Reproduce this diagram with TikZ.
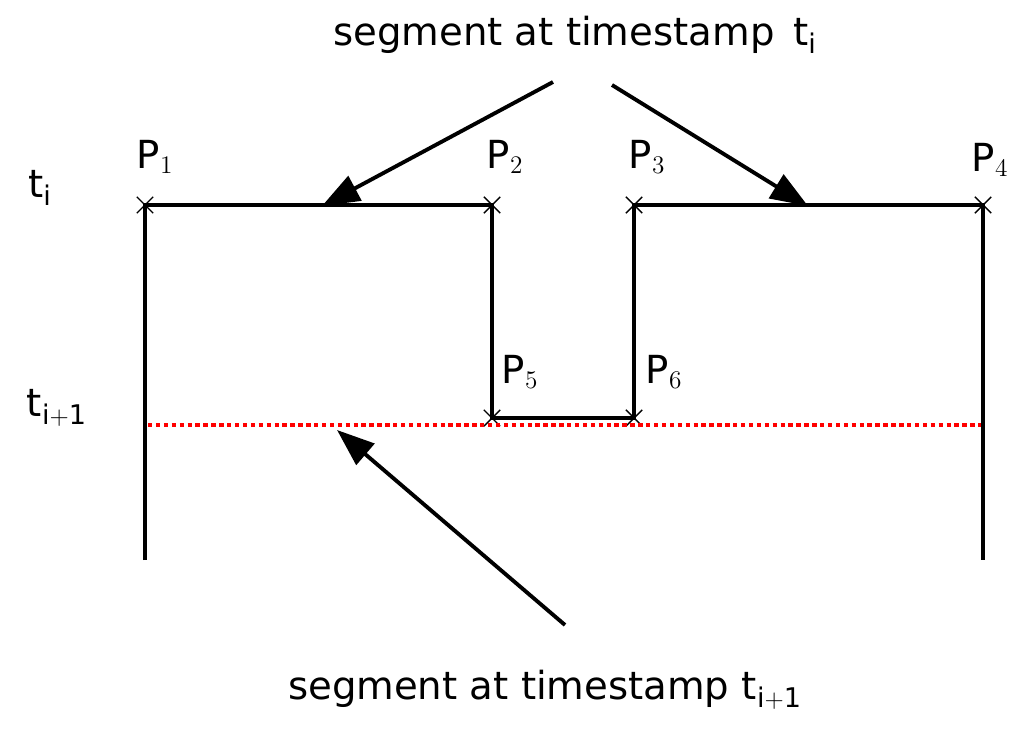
\documentclass[tikz,border=0pt]{standalone}
\usepackage{fontspec}
\setmainfont{DejaVu Sans}
\usetikzlibrary{shapes.misc,arrows.meta}
\begin{document}
\begin{tikzpicture}[x=0.02cm,y=-0.02cm,
  pt/.style={cross out,draw,thick,minimum size=0.3cm,inner sep=0pt},
  seg/.style={line width=2.2pt},
  lab/.style={font=\fontsize{22}{26}\selectfont},
  arr/.style={line width=2.2pt,-{Triangle[length=0.75cm,width=0.55cm]}}]
\useasboundingbox (0,0) rectangle (1024,733);
\node[pt] (p1) at (145,205) {};
\node[pt] (p2) at (492,205) {};
\node[pt] (p3) at (634,205) {};
\node[pt] (p4) at (983,205) {};
\node[pt] (p5) at (492,418) {};
\node[pt] (p6) at (634,418) {};
\coordinate (b1) at (145,560);
\coordinate (b4) at (983,560);
\coordinate (r1) at (148,425);
\coordinate (r2) at (986,425);
\draw[red,line width=2.5pt,dotted] (r1) -- (r2);
\draw[seg] (b1) -- (p1.center) -- (p2.center) -- (p5.center) -- (p6.center) -- (p3.center) -- (p4.center) -- (b4);
\node[lab] (l1) at (155,157) {P$_1$};
\node[lab] (l2) at (505,157) {P$_2$};
\node[lab] (l3) at (647,157) {P$_3$};
\node[lab] (l4) at (990,160) {P$_4$};
\node[lab] (l5) at (520,372) {P$_5$};
\node[lab] (l6) at (664,372) {P$_6$};
\node[lab] (t1) at (40,188) {t$_\mathrm{i}$};
\node[lab] (t2) at (57,408) {t$_\mathrm{i+1}$};
\node[lab] (top) at (575,35) {segment at timestamp \,t$_\mathrm{i}$};
\node[lab] (bot) at (545,690) {segment at timestamp t$_\mathrm{i+1}$};
\coordinate (a1s) at (553,82); \coordinate (a1e) at (322,206);
\coordinate (a2s) at (612,85); \coordinate (a2e) at (808,206);
\coordinate (a3s) at (565,625); \coordinate (a3e) at (337,430);
\draw[arr] (a1s) -- (a1e);
\draw[arr] (a2s) -- (a2e);
\draw[arr] (a3s) -- (a3e);
\end{tikzpicture}
\end{document}
